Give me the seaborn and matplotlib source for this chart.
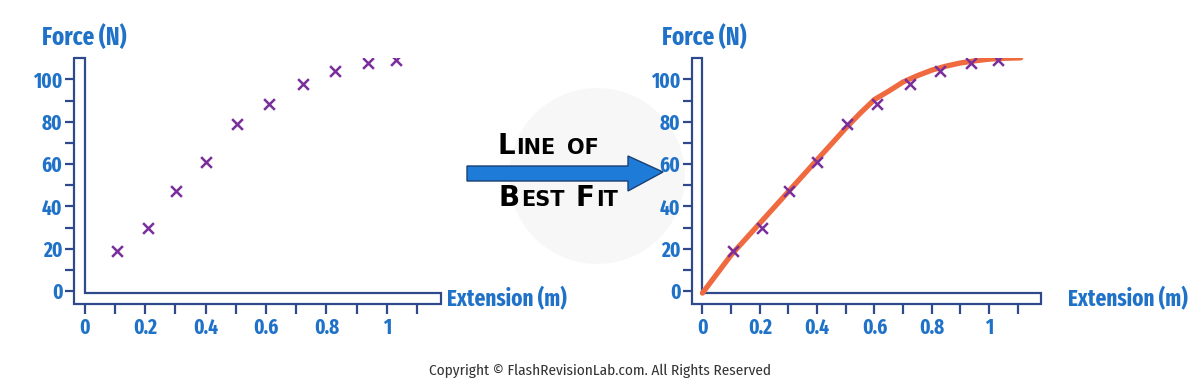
import numpy as np
import pandas as pd
import seaborn as sns
import matplotlib.pyplot as plt
from matplotlib import font_manager
from matplotlib.patches import Polygon, Ellipse
from matplotlib.offsetbox import TextArea, HPacker, AnchoredOffsetbox

# data
extension = [0.107, 0.208, 0.302, 0.401, 0.505, 0.609, 0.724, 0.830, 0.937, 1.030]
force = [18.9, 29.6, 47.1, 60.9, 78.9, 88.3, 97.8, 103.9, 107.9, 109.1]

fit_x = [0, 0.05, 0.1, 0.15, 0.2, 0.25, 0.3, 0.35, 0.4, 0.45, 0.5, 0.55,
         0.6, 0.65, 0.7, 0.75, 0.8, 0.85, 0.9, 0.95, 1.0, 1.05, 1.11]
fit_y = [-1, 8, 17, 24.5, 32, 39.5, 47, 54.5, 62, 69.5, 77, 84,
         90.5, 94.5, 98.8, 101.8, 104.4, 106.3, 107.8, 108.8, 109.6, 110, 110.2]

y_major = [0, 20, 40, 60, 80, 100]
y_minor = [10, 30, 50, 70, 90]
x_major = [0, 0.2, 0.4, 0.6, 0.8, 1.0]
x_labels = ["0", "0.2", "0.4", "0.6", "0.8", "1"]
x_minor = [0.1, 0.3, 0.5, 0.7, 0.9, 1.1]

pts = pd.DataFrame({"extension": extension, "force": force})
fit = pd.DataFrame({"extension": fit_x, "force": fit_y})

sns.set_style("white")
names = {f.name for f in font_manager.fontManager.ttflist}


def pick(*cands):
    for c in cands:
        if c in names:
            return c
    return "DejaVu Sans"


COND = pick("Fira Sans Extra Condensed", "Asap Condensed", "Barlow Condensed", "Roboto Condensed")
SMALL = pick("Fira Sans Condensed", "Open Sans Condensed", "Roboto Condensed")
plt.rcParams["font.family"] = [COND, "DejaVu Sans"]

AXIS = "#2e4a8c"
BLUE = "#1f72c8"
PURPLE = "#7a2e9c"
ORANGE = "#f06a40"

W, H = 1200, 383
fig = plt.figure(figsize=(12, 3.83), dpi=100)

# faint watermark circle behind the arrow
fig.patches.append(Ellipse((597 / W, 1 - 176 / H), 2 * 88 / W, 2 * 88 / H,
                           transform=fig.transFigure, facecolor="#f7f7f7",
                           edgecolor="none", zorder=-1))

XMIN, XMAX = -0.0354, 1.18
YMIN, YMAX = -6.3, 110
INNER_Y = -1.1


def setup(ax, title_px, label_px):
    ax.set_xlim(XMIN, XMAX)
    ax.set_ylim(YMIN, YMAX)
    ax.patch.set_alpha(0)
    for s in ax.spines.values():
        s.set_visible(False)
    # hollow L-shaped axis bar
    frame = [(XMIN, YMAX), (0, YMAX), (0, INNER_Y), (XMAX, INNER_Y),
             (XMAX, YMIN), (XMIN, YMIN), (XMIN, YMAX)]
    fx, fy = zip(*frame)
    ax.plot(fx, fy, color=AXIS, lw=1.6, clip_on=False, zorder=1,
            solid_joinstyle="miter")
    ax.set_yticks(y_major)
    ax.set_yticks(y_minor, minor=True)
    ax.set_xticks(x_major)
    ax.set_xticklabels(x_labels)
    ax.set_xticks(x_minor, minor=True)
    ax.tick_params(axis="y", which="both", direction="out", length=6.5, width=1.6,
                   color=AXIS, left=True, pad=2, labelsize=15, labelcolor=BLUE)
    ax.tick_params(axis="x", which="both", direction="out", length=7.5, width=1.6,
                   color=AXIS, bottom=True, pad=2, labelsize=15, labelcolor=BLUE)
    for t in ax.get_xticklabels() + ax.get_yticklabels():
        t.set_fontweight("bold")
    ax.set_xlabel("")
    ax.set_ylabel("")
    fig.text(title_px / W, 1 - 37 / H, "Force (N)", fontsize=18, fontweight="bold",
             color=BLUE, ha="left", va="center")
    fig.text(label_px / W, 1 - 299 / H, "Extension (m)", fontsize=16.5, fontweight="bold",
             color=BLUE, ha="left", va="center")


bottom = 1 - 304.3 / H
height = (304.3 - 58.3) / H

ax1 = fig.add_axes([74.3 / W, bottom, (441 - 74.3) / W, height])
sns.scatterplot(data=pts, x="extension", y="force", marker="x", s=60, color=PURPLE,
                linewidth=1.8, ax=ax1, zorder=3)
setup(ax1, 41.7, 447)

ax2 = fig.add_axes([692.3 / W, bottom, (1040.7 - 692.3) / W, height])
sns.lineplot(data=fit, x="extension", y="force", color=ORANGE, lw=3.8, estimator=None,
             ax=ax2, zorder=2, solid_capstyle="round", solid_joinstyle="round")
sns.scatterplot(data=pts, x="extension", y="force", marker="x", s=60, color=PURPLE,
                linewidth=1.8, ax=ax2, zorder=3)
setup(ax2, 661.7, 1068)

# arrow between the charts
arrow_px = [(467, 166), (628, 166), (628, 156), (663, 172), (628, 191), (628, 181), (467, 181)]
fig.patches.append(Polygon([(x / W, 1 - y / H) for x, y in arrow_px], closed=True,
                           transform=fig.transFigure, facecolor="#1f7bd8",
                           edgecolor="#1a3f73", lw=1.0, zorder=2))


def small_caps(words, big=20, small=15):
    # capitalised words get a large first letter, the rest is small
    boxes = []
    for w in words:
        props = dict(fontweight="bold", color="black", family="DejaVu Sans")
        if w[0].isupper():
            boxes.append(TextArea(w[0], textprops=dict(fontsize=big, **props)))
            w = w[1:]
        boxes.append(TextArea(w.upper(), textprops=dict(fontsize=small, **props)))
        boxes.append(TextArea("  ", textprops=dict(fontsize=small)))
    return HPacker(children=boxes[:-1], align="baseline", pad=0, sep=1)


fig.add_artist(AnchoredOffsetbox(loc="center", child=small_caps(["Line", "of"]),
                                 frameon=False, pad=0,
                                 bbox_to_anchor=(548 / W, 1 - 146 / H),
                                 bbox_transform=fig.transFigure))
fig.add_artist(AnchoredOffsetbox(loc="center", child=small_caps(["Best", "Fit"]),
                                 frameon=False, pad=0,
                                 bbox_to_anchor=(558 / W, 1 - 198 / H),
                                 bbox_transform=fig.transFigure))

fig.text(600 / W, 1 - 371 / H, "Copyright \u00a9 FlashRevisionLab.com. All Rights Reserved",
         fontsize=11, color="#333333", ha="center", va="center", family=[SMALL, "DejaVu Sans"])

fig.savefig("out.png", dpi=100)
